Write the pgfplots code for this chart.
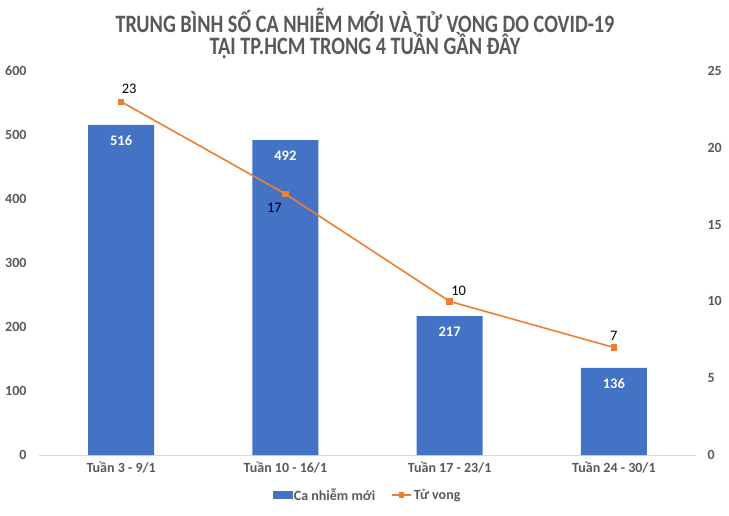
\documentclass[border=0pt]{standalone}
\usepackage{pgfplots}
\pgfplotsset{compat=1.18}
\usepackage{pgfplotstable}
\usepackage{fontspec}
\setmainfont{Carlito}

\definecolor{barblue}{HTML}{4472C4}
\definecolor{lineorange}{HTML}{ED7D31}
\definecolor{txtgray}{HTML}{595959}
\definecolor{axisgray}{HTML}{D9D9D9}

% weekly averages: new cases (left axis), deaths (right axis), label offsets
\pgfplotstableread{
x cases deaths dx dy
0 516 23 8 13
1 492 17 -11 -14
2 217 10 9 11
3 136 7 0 12
}\weekdata

\begin{document}
\begin{tikzpicture}[x=1pt,y=1pt]
\useasboundingbox (0,0) rectangle (729,515);

\node[font=\fontsize{25}{28}\selectfont\bfseries, text=txtgray] at (365,495)
  {\scalebox{0.81}[1]{TRUNG BÌNH SỐ CA NHIỄM MỚI VÀ TỬ VONG DO COVID-19}};
\node[font=\fontsize{25}{28}\selectfont\bfseries, text=txtgray] at (365,469)
  {\scalebox{0.81}[1]{TẠI TP.HCM TRONG 4 TUẦN GẦN ĐÂY}};

\begin{axis}[
  at={(39pt,60pt)}, anchor=south west,
  scale only axis, width=657pt, height=384pt,
  xmin=-0.5, xmax=3.5, ymin=0, ymax=600,
  xtick={0,1,2,3},
  xticklabels={Tuần 3 - 9/1, Tuần 10 - 16/1, Tuần 17 - 23/1, Tuần 24 - 30/1},
  ytick={0,100,...,600},
  axis x line*=bottom, axis y line*=left,
  x axis line style={axisgray, line width=0.8pt, -},
  y axis line style={draw=none},
  major tick length=0pt,
  tick label style={font=\fontsize{14}{16}\selectfont\bfseries, text=txtgray},
  /pgf/number format/assume math mode=true,
  yticklabel style={xshift=-9pt},
  xticklabel style={yshift=-3pt},
]
\addplot[ybar, bar width=66pt, fill=barblue, draw=none,
  nodes near coords,
  nodes near coords style={font=\fontsize{14.5}{16}\selectfont\bfseries, text=white,
    anchor=center, yshift=-16pt}]
  table[x=x, y=cases] {\weekdata};
\end{axis}

\begin{axis}[
  at={(39pt,60pt)}, anchor=south west,
  scale only axis, width=657pt, height=384pt,
  xmin=-0.5, xmax=3.5, ymin=0, ymax=25,
  ytick={0,5,...,25},
  axis x line=none, axis y line*=right,
  y axis line style={draw=none},
  major tick length=0pt,
  tick label style={font=\fontsize{14}{16}\selectfont\bfseries, text=txtgray},
  /pgf/number format/assume math mode=true,
  yticklabel style={xshift=8pt},
  legend style={at={(0.5,-0.104)}, anchor=center, draw=none, fill=none,
    legend columns=-1, font=\fontsize{14}{16}\selectfont\bfseries, text=txtgray,
    /tikz/every even column/.append style={column sep=14pt}},
]
\addlegendimage{legend image code/.code={
    \fill[barblue] (0pt,-3.5pt) rectangle (19pt,3.5pt);}}
\addlegendentry{Ca nhiễm mới}
\addplot[lineorange, line width=1.6pt, mark=square*, mark size=2.4pt,
  mark options={solid},
  legend image code/.code={
    \draw[lineorange, line width=1.6pt] (0pt,0pt) -- (19pt,0pt);
    \fill[lineorange] (7.5pt,-2.4pt) rectangle (11.5pt,2.4pt);},
  visualization depends on={\thisrow{dx} \as \lbldx},
  visualization depends on={\thisrow{dy} \as \lbldy},
  nodes near coords,
  nodes near coords style={font=\fontsize{14.5}{16}\selectfont, text=black,
    anchor=center, xshift=\lbldx pt, yshift=\lbldy pt}]
  table[x=x, y=deaths] {\weekdata};
\addlegendentry{Tử vong}
\end{axis}
\end{tikzpicture}
\end{document}
